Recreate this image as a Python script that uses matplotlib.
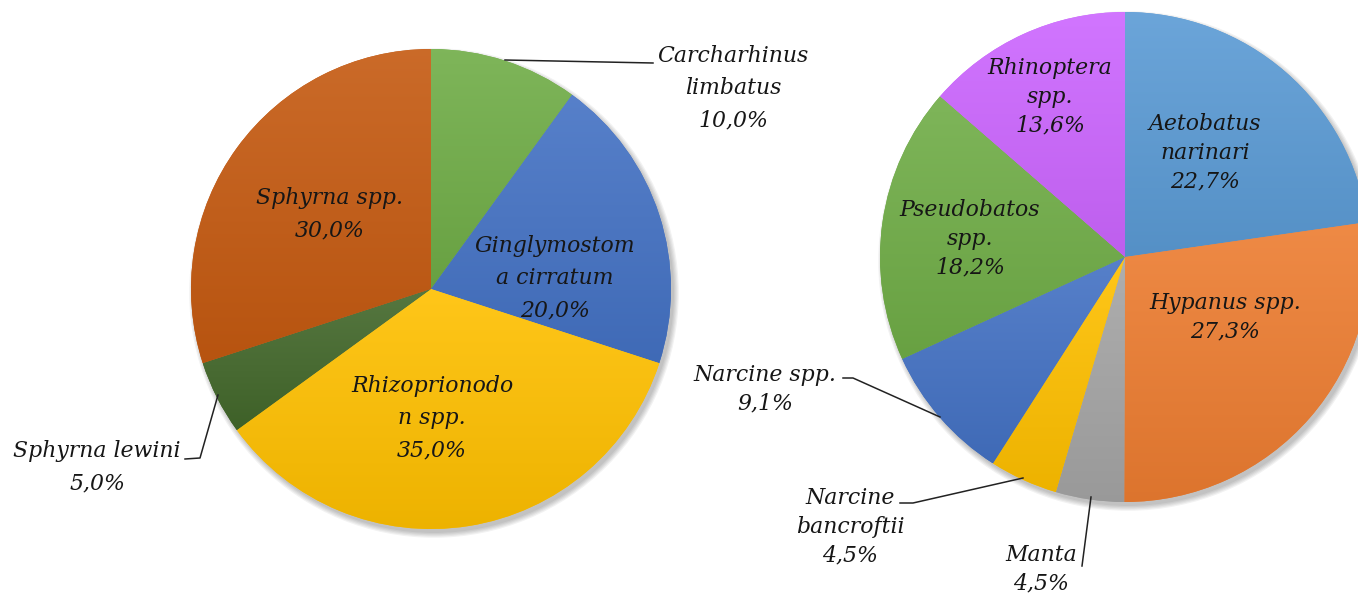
import numpy as np
import matplotlib.pyplot as plt
from matplotlib.colors import to_rgb
from matplotlib.patches import Circle

# data
left_names = ["Carcharhinus\nlimbatus", "Ginglymostom\na cirratum", "Rhizoprionodo\nn spp.",
              "Sphyrna lewini", "Sphyrna spp."]
left_pct = [10.0, 20.0, 35.0, 5.0, 30.0]
left_colors = ["#70AD47", "#4472C4", "#FFC000", "#43682B", "#C55A11"]

right_names = ["Aetobatus\nnarinari", "Hypanus spp.", "Manta", "Narcine\nbancroftii",
               "Narcine spp.", "Pseudobatos\nspp.", "Rhinoptera\nspp."]
right_pct = [22.7, 27.3, 4.5, 4.5, 9.1, 18.2, 13.6]
right_colors = ["#5B9BD5", "#ED7D31", "#A5A5A5", "#FFC000", "#4472C4", "#70AD47", "#CC66FF"]

H = 600  # figure height in px, layout given in image pixels (y down)
def P(x, y):
    return (x, H - y)

# label centres (px) and leader lines (px)
left_pos = [(733, 88), (555, 278), (432, 418), (97, 467), (330, 214)]
right_pos = [(1205, 153), (1225, 317), (1041, 569), (850, 527), (765, 389), (970, 239), (1050, 97)]
leaders = [
    [(505, 60), (653, 63)],
    [(218, 395), (200, 458), (185, 459)],
    [(940, 417), (853, 378), (843, 378)],
    [(1023, 478), (913, 503), (900, 503)],
    [(1091, 497), (1082, 566)],
]

FONT = dict(family="DejaVu Serif", style="italic", size=15.8, color="#161616")

def shade(c, f):
    c = np.array(to_rgb(c))
    return c + (1 - c) * f if f > 0 else c * (1 + f)

def fmt(v):
    return ("%.1f%%" % v).replace(".", ",")

fig = plt.figure(figsize=(13.58, 6), dpi=100)
ax = fig.add_axes([0, 0, 1, 1])

def draw_pie(values, colors, centre, r):
    cx, cy = P(*centre)
    # soft shadow
    for k in range(5):
        ax.add_patch(Circle((cx + 3, cy - 4), r + k * 1.2, color="k", alpha=0.05, lw=0, zorder=0))
    wedges, _ = ax.pie(values, colors=colors, startangle=90, counterclock=False,
                       center=(cx, cy), radius=r, wedgeprops=dict(lw=0), frame=True)
    for w, col in zip(wedges, colors):
        t = np.radians(np.linspace(w.theta1, w.theta2, 100))
        xs = np.r_[cx, cx + r * np.cos(t)]
        ys = np.r_[cy, cy + r * np.sin(t)]
        g = np.linspace(0, 1, 200)[:, None, None]
        img = shade(col, 0.1) * (1 - g) + shade(col, -0.07) * g
        im = ax.imshow(img, extent=(xs.min(), xs.max(), ys.min(), ys.max()),
                       origin="upper", zorder=2, interpolation="bilinear")
        im.set_clip_path(w)

draw_pie(left_pct, left_colors, (431, 289), 240)
draw_pie(right_pct, right_colors, (1125, 257), 245)

for name, v, pos in zip(left_names, left_pct, left_pos):
    ax.text(*P(*pos), name + "\n" + fmt(v), ha="center", va="center",
            linespacing=1.6, zorder=5, **FONT)
for name, v, pos in zip(right_names, right_pct, right_pos):
    ax.text(*P(*pos), name + "\n" + fmt(v), ha="center", va="center",
            linespacing=1.4, zorder=5, **FONT)

for pts in leaders:
    xy = np.array([P(*p) for p in pts])
    ax.plot(xy[:, 0], xy[:, 1], color="#222222", lw=1.1, zorder=4)

ax.set_xlim(0, 1358)
ax.set_ylim(0, H)
ax.set_aspect("equal")
ax.axis("off")

fig.savefig("out.png", dpi=100)
